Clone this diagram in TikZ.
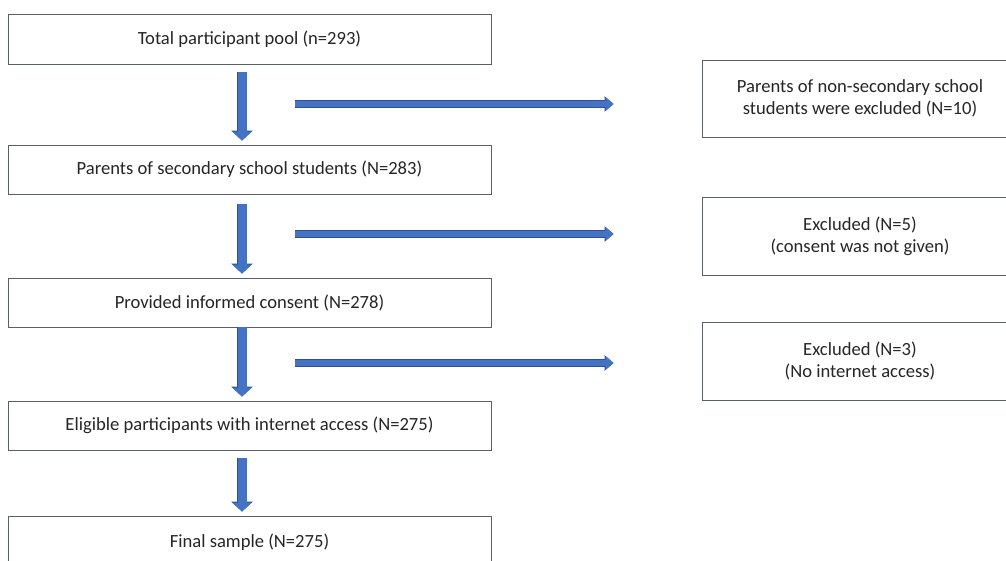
\documentclass[tikz,border=0pt]{standalone}
\usepackage{fontspec}
\setmainfont{Carlito}
\usetikzlibrary{arrows.meta,calc}
\definecolor{arrowblue}{HTML}{4472C4}
\definecolor{arrowedge}{HTML}{2F528F}
\definecolor{boxedge}{HTML}{5A5F66}
\tikzset{
  flowbox/.style={draw=boxedge, line width=0.9pt, fill=white, rectangle, minimum width=483pt, minimum height=49pt, inner sep=0pt, align=center, font=\fontsize{18.6}{22}\selectfont, text=black!85},
  sidebox/.style={draw=boxedge, line width=0.9pt, fill=white, rectangle, minimum width=316pt, minimum height=78pt, inner sep=0pt, align=center, font=\fontsize{18.6}{22}\selectfont, text=black!85},
  downarrow/.style={draw=arrowblue, line width=9pt, -{Triangle[width=19pt,length=9pt]},
     preaction={draw=arrowedge, line width=10.5pt, -{Triangle[width=21pt,length=10pt]}}},
  sidearrow/.style={draw=arrowblue, line width=6pt, -{Triangle[width=13pt,length=8pt]},
     preaction={draw=arrowedge, line width=7.5pt, -{Triangle[width=15pt,length=9pt]}}}
}
\begin{document}
\begin{tikzpicture}[x=1pt,y=-1pt]
\useasboundingbox (0,0) rectangle (1006,560);
\fill[white] (0,0) rectangle (1006,560);
\node[flowbox, minimum height=50pt] (b1) at (249.5,39) {Total participant pool (n=293)};
\node[flowbox] (b2) at (249.5,169.5) {Parents of secondary school students (N=283)};
\node[flowbox] (b3) at (249.5,302.5) {Provided informed consent (N=278)};
\node[flowbox] (b4) at (249.5,425.5) {Eligible participants with internet access (N=275)};
\node[flowbox, minimum height=52pt] (b5) at (249.5,542) {Final sample (N=275)};
\node[sidebox, minimum height=77pt] (s1) at (860,98.5) {Parents of non-secondary school\\students were excluded (N=10)};
\node[sidebox] (s2) at (860,236) {Excluded (N=5)\\(consent was not given)};
\node[sidebox] (s3) at (860,361) {Excluded (N=3)\\(No internet access)};
% vertical arrows
\draw[downarrow] ($(b1.south)+(-7.5,8)$) -- ($(b2.north)+(-7.5,-4)$);
\draw[downarrow] ($(b2.south)+(-7.5,10)$) -- ($(b3.north)+(-7.5,-4)$);
\draw[downarrow] ($(b3.south)+(-7.5,0)$) -- ($(b4.north)+(-7.5,-4)$);
\draw[downarrow] ($(b4.south)+(-7.5,8)$) -- ($(b5.north)+(-7.5,-4)$);
% horizontal arrows
\coordinate (h1a) at (295,104);
\coordinate (h2a) at (295,234);
\coordinate (h3a) at (295,363);
\draw[sidearrow] (h1a) -- ($(s1.west |- h1a)+(-88,0)$);
\draw[sidearrow] (h2a) -- ($(s2.west |- h2a)+(-88,0)$);
\draw[sidearrow] (h3a) -- ($(s3.west |- h3a)+(-88,0)$);
\end{tikzpicture}
\end{document}
